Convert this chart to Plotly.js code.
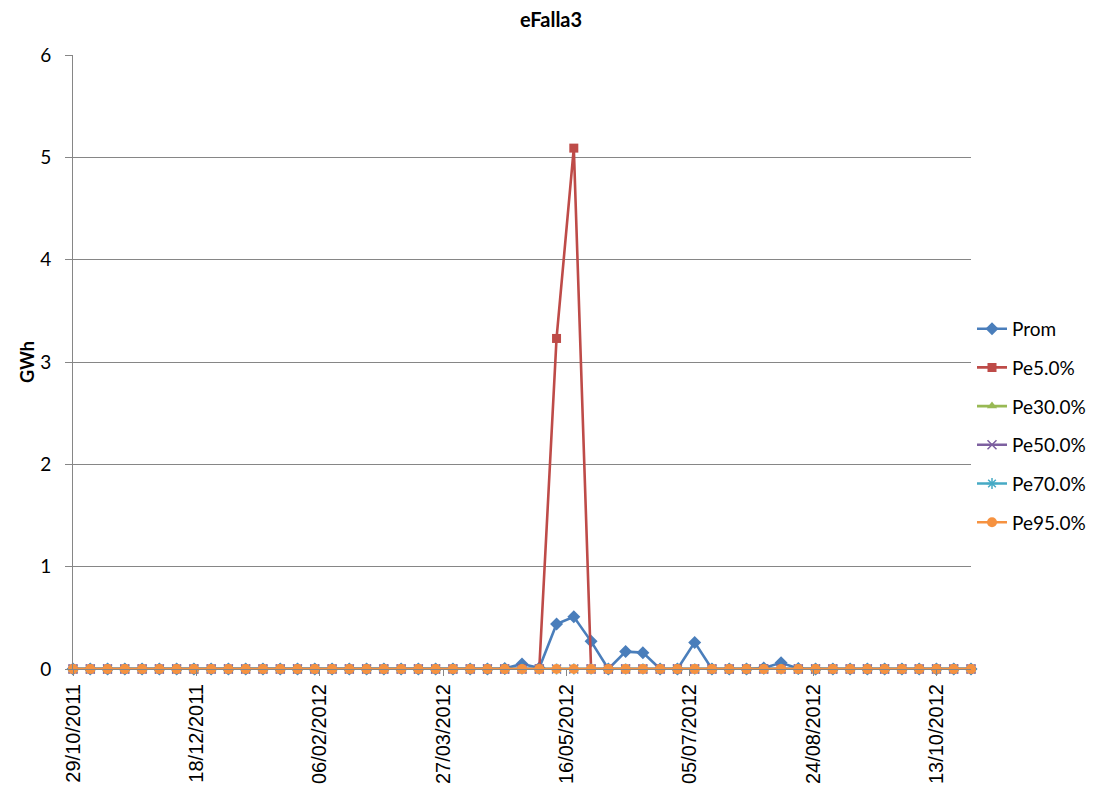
<!DOCTYPE html>
<html>
<head>
<meta charset="utf-8">
<script src="https://cdn.plot.ly/plotly-3.0.1.min.js"></script>
<style>html,body{margin:0;padding:0;background:#fff;}#chart{width:1102px;height:800px;}</style>
</head>
<body>
<div id="chart"></div>
<script>
const dates = [
 "2011-10-29","2011-11-05","2011-11-12","2011-11-19","2011-11-26","2011-12-03","2011-12-10","2011-12-17",
 "2011-12-24","2011-12-31","2012-01-07","2012-01-14","2012-01-21","2012-01-28","2012-02-04","2012-02-11",
 "2012-02-18","2012-02-25","2012-03-03","2012-03-10","2012-03-17","2012-03-24","2012-03-31","2012-04-07",
 "2012-04-14","2012-04-21","2012-04-28","2012-05-05","2012-05-12","2012-05-19","2012-05-26","2012-06-02",
 "2012-06-09","2012-06-16","2012-06-23","2012-06-30","2012-07-07","2012-07-14","2012-07-21","2012-07-28",
 "2012-08-04","2012-08-11","2012-08-18","2012-08-25","2012-09-01","2012-09-08","2012-09-15","2012-09-22",
 "2012-09-29","2012-10-06","2012-10-13","2012-10-20","2012-10-27"
];
const prom = [0,0,0,0,0,0,0,0,0,0,0,0,0,0,0,0,0,0,0,0,0,0,0,0,0,0.005,0.05,0.01,0.44,0.51,0.27,0,0.17,0.16,0,0,0.26,0,0,0,0.01,0.06,0.005,0,0,0,0,0,0,0,0,0,0];
const pe5 = [0,0,0,0,0,0,0,0,0,0,0,0,0,0,0,0,0,0,0,0,0,0,0,0,0,0,0,0,3.23,5.09,0,0,0,0,0,0,0,0,0,0,0,0,0,0,0,0,0,0,0,0,0,0,0];
const pe30 = [0,0,0,0,0,0,0,0,0,0,0,0,0,0,0,0,0,0,0,0,0,0,0,0,0,0,0,0,0,0,0,0,0,0,0,0,0,0,0,0,0,0,0,0,0,0,0,0,0,0,0,0,0];
const pe50 = [0,0,0,0,0,0,0,0,0,0,0,0,0,0,0,0,0,0,0,0,0,0,0,0,0,0,0,0,0,0,0,0,0,0,0,0,0,0,0,0,0,0,0,0,0,0,0,0,0,0,0,0,0];
const pe70 = [0,0,0,0,0,0,0,0,0,0,0,0,0,0,0,0,0,0,0,0,0,0,0,0,0,0,0,0,0,0,0,0,0,0,0,0,0,0,0,0,0,0,0,0,0,0,0,0,0,0,0,0,0];
const pe95 = [0,0,0,0,0,0,0,0,0,0,0,0,0,0,0,0,0,0,0,0,0,0,0,0,0,0,0,0,0,0,0,0,0,0,0,0,0,0,0,0,0,0,0,0,0,0,0,0,0,0,0,0,0];
const seriesNames = ["Prom","Pe5.0%","Pe30.0%","Pe50.0%","Pe70.0%","Pe95.0%"];
const seriesValues = [prom, pe5, pe30, pe50, pe70, pe95];
const colors = ["#4A7EBB","#BE4B48","#98B954","#7D60A0","#46AAC5","#F69240"];
const symbols = ["diamond","square","triangle-up","x-thin","asterisk","circle"];
const markerSizes = [10, 9, 9, 9, 9, 10];
const yTitle = "GWh";
const chartTitle = "eFalla3";

const traces = seriesNames.map((n, i) => ({
  x: dates, y: seriesValues[i], name: n, type: "scatter", mode: "lines+markers",
  legendgroup: "g" + i, cliponaxis: false,
  line: {color: colors[i], width: 2.6},
  marker: {symbol: symbols[i], size: markerSizes[i],
           color: colors[i], line: {color: colors[i], width: (symbols[i]==="x-thin"||symbols[i]==="asterisk") ? 1.5 : 0}}
}));

const layout = {
  width: 1102, height: 800,
  margin: {l: 73, r: 130, t: 55, b: 130.5, pad: 0},
  paper_bgcolor: "#fff", plot_bgcolor: "#fff",
  title: {text: "<b>" + chartTitle + "</b>", x: 0.5, xref: "container", y: 0.975, yanchor: "middle",
          font: {family: "Lato, 'Open Sans', sans-serif", size: 20, color: "#000"}},
  xaxis: {
    type: "date", range: ["2011-10-29", "2012-10-27"],
    tick0: "2011-10-29", dtick: 50 * 86400000, tickformat: "%d/%m/%Y", tickangle: -90,
    ticks: "outside", ticklen: 6, tickcolor: "#868686",
    showline: true, linecolor: "#868686", linewidth: 1, showgrid: false, zeroline: false,
    tickfont: {family: "'Liberation Sans', Arial, sans-serif", size: 20, color: "#000"}
  },
  yaxis: {
    range: [0, 6], dtick: 1, tick0: 0,
    ticks: "outside", ticklen: 7, tickcolor: "#868686", ticklabelstandoff: 10,
    showline: true, linecolor: "#868686", linewidth: 1,
    showgrid: true, gridcolor: "#868686", gridwidth: 1, zeroline: false,
    tickfont: {family: "Lato, 'Open Sans', sans-serif", size: 19, color: "#000"},
    title: {text: "<b>" + yTitle + "</b>", standoff: 0,
            font: {family: "Lato, 'Open Sans', sans-serif", size: 18, color: "#000"}}
  },
  showlegend: true,
  legend: {x: 1.0, xanchor: "left", y: 0.396, yanchor: "middle", tracegroupgap: 11,
           font: {family: "Lato, 'Open Sans', sans-serif", size: 19, color: "#000"},
           bgcolor: "rgba(0,0,0,0)", borderwidth: 0, itemwidth: 30}
};

Plotly.newPlot("chart", traces, layout, {displayModeBar: false, staticPlot: true});
</script>
</body>
</html>
